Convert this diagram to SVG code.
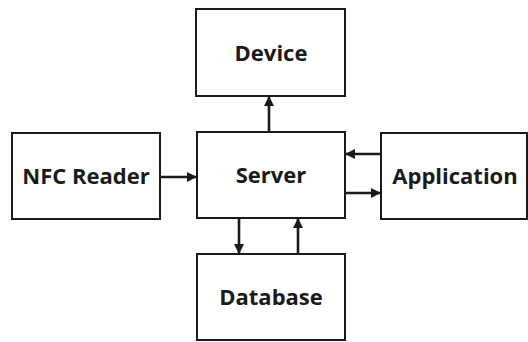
<svg xmlns="http://www.w3.org/2000/svg" width="528" height="342" viewBox="0 0 528 342">
  <style>
    .box { fill: #ffffff; stroke: #1a1a1a; stroke-width: 2; }
    .label { font-family: "Open Sans", "Noto Sans", "DejaVu Sans", sans-serif; font-weight: bold; font-size: 22px; fill: #1a1a1a; text-anchor: middle; }
    .link { stroke: #1a1a1a; stroke-width: 2.6; fill: none; marker-end: url(#head); }
  </style>
  <defs>
    <marker id="head" markerWidth="4" markerHeight="4" refX="3.6" refY="2" orient="auto" markerUnits="strokeWidth">
      <path d="M0,0 L4,2 L0,4 Z" fill="#1a1a1a"/>
    </marker>
  </defs>
  <rect width="528" height="342" fill="#ffffff"/>

  <g id="connectors">
    <line class="link" x1="269" y1="132" x2="269" y2="97"/>
    <line class="link" x1="160" y1="177" x2="196" y2="177"/>
    <line class="link" x1="381" y1="154" x2="346" y2="154"/>
    <line class="link" x1="345" y1="193" x2="380" y2="193"/>
    <line class="link" x1="239" y1="218" x2="239" y2="253"/>
    <line class="link" x1="298" y1="254" x2="298" y2="219"/>
  </g>

  <g id="device">
    <rect class="box" x="196" y="9" width="149" height="87"/>
    <text class="label" x="271" y="61">Device</text>
  </g>
  <g id="nfc-reader">
    <rect class="box" x="12" y="133" width="148" height="86"/>
    <text class="label" x="86" y="184">NFC Reader</text>
  </g>
  <g id="server">
    <rect class="box" x="197" y="132" width="148" height="86"/>
    <text class="label" x="271" y="183">Server</text>
  </g>
  <g id="application">
    <rect class="box" x="381" y="133" width="146" height="86"/>
    <text class="label" x="455" y="184">Application</text>
  </g>
  <g id="database">
    <rect class="box" x="197" y="254" width="148" height="86"/>
    <text class="label" x="271" y="305">Database</text>
  </g>
</svg>
